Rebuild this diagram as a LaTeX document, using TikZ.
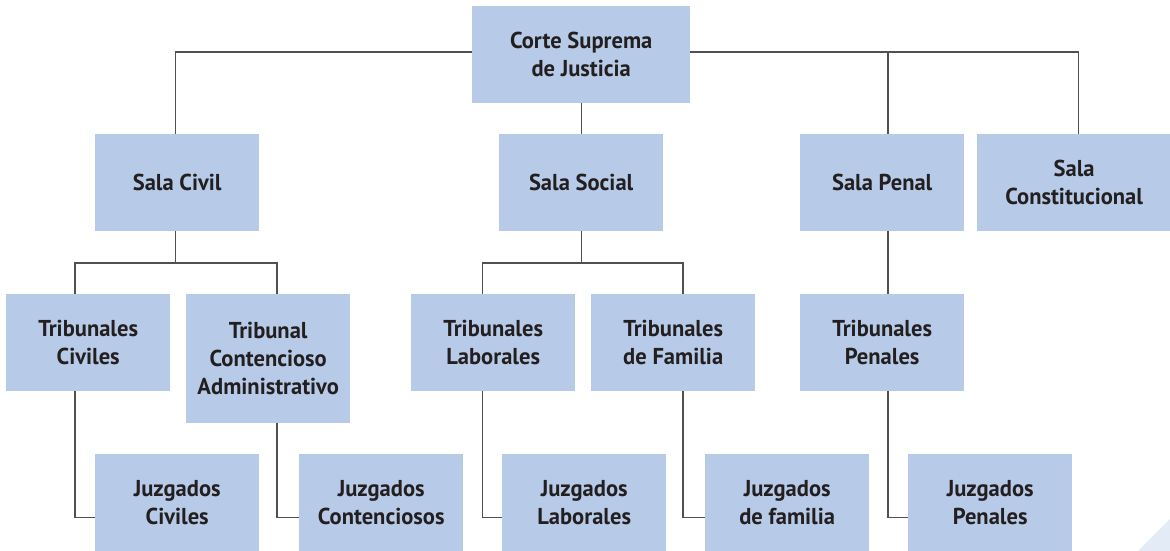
\documentclass[tikz,border=0pt]{standalone}
\usepackage{fontspec}
\setmainfont[FakeStretch=0.98]{PT Sans}
\usetikzlibrary{calc}
\definecolor{boxblue}{HTML}{B7CBE8}
\definecolor{textdark}{HTML}{231F20}
\definecolor{linegray}{HTML}{505050}
\definecolor{paleblue}{HTML}{E3EBF6}
\tikzset{
  orgbox/.style={fill=boxblue, text=textdark, align=center, inner sep=0pt,
    anchor=north west, minimum width=164pt, minimum height=96.7pt,
    font=\fontsize{23}{28}\selectfont\bfseries},
  conn/.style={draw=linegray, line width=1.3pt}
}
\begin{document}
\begin{tikzpicture}[x=1pt,y=-1pt]
\useasboundingbox (0,0) rectangle (1170,551);
\fill[paleblue] (1138,551) -- (1170,519) -- (1170,551) -- cycle;
% level 1
\node[orgbox, minimum width=218pt] (cs) at (472,6) {Corte Suprema\\de Justicia};
% level 2
\node[orgbox] (civil) at (95,134) {Sala Civil};
\node[orgbox] (social) at (499,134) {Sala Social};
\node[orgbox] (penal) at (800,134) {Sala Penal};
\node[orgbox, minimum width=194pt] (const) at (977,134) {Sala\\Constitucional};
% level 3
\node[orgbox] (tciv) at (6,294) {Tribunales\\Civiles};
\node[orgbox, minimum height=128.7pt] (tcon) at (186,294) {Tribunal\\Contencioso\\Administrativo};
\node[orgbox] (tlab) at (411,294) {Tribunales\\Laborales};
\node[orgbox] (tfam) at (591,294) {Tribunales\\de Familia};
\node[orgbox] (tpen) at (800,294) {Tribunales\\Penales};
% level 4
\node[orgbox] (jciv) at (95,454) {Juzgados\\Civiles};
\node[orgbox] (jcon) at (299,454) {Juzgados\\Contenciosos};
\node[orgbox] (jlab) at (502,454) {Juzgados\\Laborales};
\node[orgbox] (jfam) at (705,454) {Juzgados\\de familia};
\node[orgbox] (jpen) at (908,454) {Juzgados\\Penales};
% connectors from the top
\coordinate (topR) at ([yshift=2.6pt]cs.east);
\draw[conn] ([yshift=2.6pt]cs.west) -| ([xshift=-1.5pt]civil.north);
\draw[conn] (topR) -| ([xshift=4.5pt]const.north);
\draw[conn] ([xshift=5.7pt]penal.north) -- ([xshift=5.7pt]penal.north |- topR);
\draw[conn] (cs.south) -- (social.north);
% civil branch
\coordinate (civJ) at ([xshift=-1.5pt,yshift=-32pt]civil.south);
\draw[conn] ([xshift=-1.5pt]civil.south) -- (civJ);
\draw[conn] ([xshift=-13.3pt]tciv.north) |- (civJ) -| ([xshift=8.7pt]tcon.north);
\draw[conn] ([xshift=-13.3pt]tciv.south) |- ([yshift=-15.2pt]jciv.west);
\draw[conn] ([xshift=8.7pt]tcon.south) |- ([yshift=-15.2pt]jcon.west);
% social branch
\coordinate (socJ) at ([yshift=-32pt]social.south);
\draw[conn] (social.south) -- (socJ);
\draw[conn] ([xshift=-11pt]tlab.north) |- (socJ) -| ([xshift=9.7pt]tfam.north);
\draw[conn] ([xshift=-11pt]tlab.south) |- ([yshift=-15pt]jlab.west);
\draw[conn] ([xshift=9.7pt]tfam.south) |- ([yshift=-15pt]jfam.west);
% penal branch
\draw[conn] ([xshift=5.7pt]penal.south) -- ([xshift=5.7pt]tpen.north);
\draw[conn] ([xshift=5.7pt]tpen.south) |- ([yshift=-15.2pt]jpen.west);
\end{tikzpicture}
\end{document}
